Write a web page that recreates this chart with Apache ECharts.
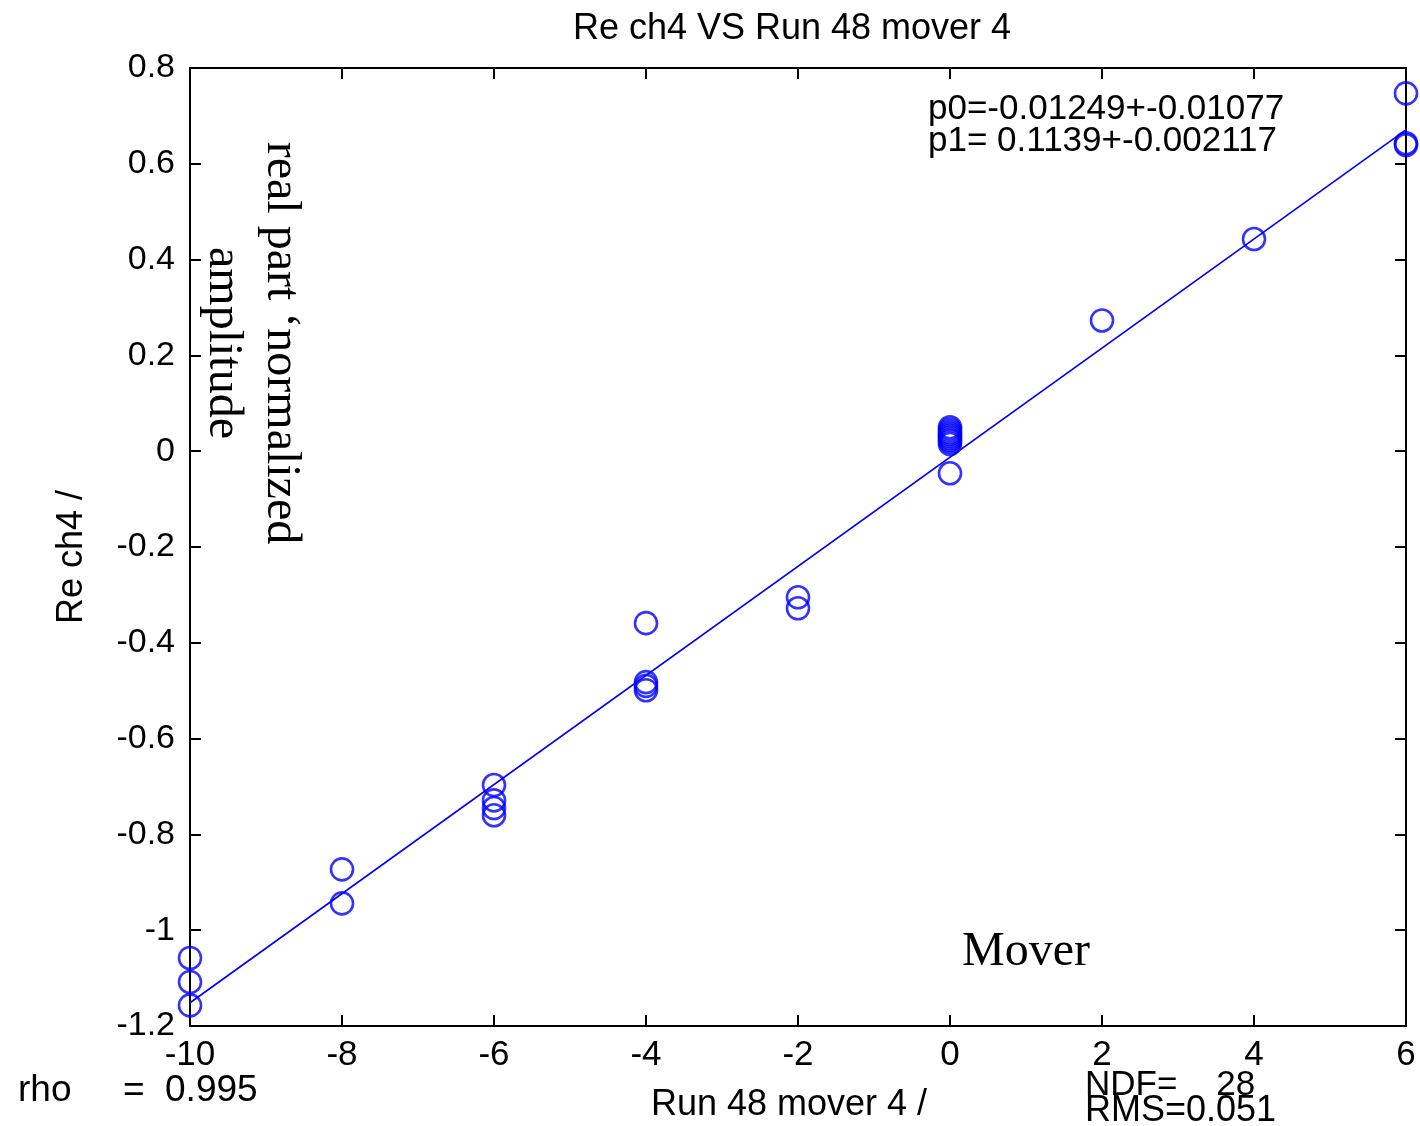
<!DOCTYPE html>
<html><head><meta charset="utf-8">
<script src="https://cdn.jsdelivr.net/npm/echarts@6/dist/echarts.min.js"></script>
<style>html,body{margin:0;padding:0;background:#fff}#c{width:1420px;height:1126px}</style>
</head><body><div id="c"></div>
<script>
var moverX = [-10,-10,-10,-8,-8,-6,-6,-6,-6,-4,-4,-4,-4,-2,-2,0,0,0,0,0,0,0,0,0,0,2,4,6,6,6];
var reCh4 = [-1.058,-1.108,-1.157,-0.873,-0.944,-0.697,-0.729,-0.745,-0.760,-0.359,-0.482,-0.490,-0.499,-0.305,-0.328,0.050,0.045,0.040,0.036,0.032,0.028,0.024,0.020,0.015,-0.046,0.273,0.443,0.747,0.643,0.639];
var fitP0 = -0.01249, fitP1 = 0.1139;
var fitRange = [-10, 6];
var titleText = 'Re ch4 VS Run 48 mover 4';
var xName = 'Run 48 mover 4 /';
var yName = 'Re ch4 /';
var fitLines = ['p0=-0.01249+-0.01077', 'p1= 0.1139+-0.002117'];
var statRho = 'rho     =  0.995';
var statNdf = 'NDF=    28';
var statRms = 'RMS=0.051';
var noteY = 'real part \u2018normalized\namplitude';
var noteX = 'Mover';

var pts = moverX.map(function(x,i){return [x, reCh4[i]];});
var fitData = fitRange.map(function(x){return [x, fitP0 + fitP1*x];});
var sans = 'Liberation Sans';
var serif = 'Liberation Serif';
var chart = echarts.init(document.getElementById('c'), null, {renderer:'canvas'});
var axisCommon = {
  axisLine:{show:true, onZero:false, lineStyle:{color:'#000', width:2}},
  axisTick:{show:true, inside:true, length:11, lineStyle:{color:'#000', width:2}},
  splitLine:{show:false}
};
chart.setOption({
  animation:false,
  backgroundColor:'#fff',
  title:{text:titleText, left:787, top:6, textAlign:'center',
    textStyle:{fontFamily:sans, fontSize:36, fontWeight:'normal', color:'#000'}},
  grid:{left:190, right:14, top:68, bottom:100, containLabel:false},
  xAxis:[
    Object.assign({type:'value', min:-10, max:6, interval:2, position:'bottom',
      axisLabel:{fontFamily:sans, fontSize:35, color:'#000', margin:12}}, axisCommon),
    Object.assign({type:'value', min:-10, max:6, interval:2, position:'top',
      axisLabel:{show:false}}, axisCommon)
  ],
  yAxis:[
    Object.assign({type:'value', min:-1.2, max:0.8, interval:0.2, position:'left',
      axisLabel:{fontFamily:sans, fontSize:34, color:'#000', margin:15,
        formatter:function(v){return String(Math.round(v*10)/10);}}}, axisCommon),
    Object.assign({type:'value', min:-1.2, max:0.8, interval:0.2, position:'right',
      axisLabel:{show:false}}, axisCommon)
  ],
  series:[
    {type:'line', data:fitData, symbol:'none', lineStyle:{color:'#0000ff', width:1.6}, z:3},
    {type:'scatter', data:pts, symbol:'circle', symbolSize:22,
      itemStyle:{color:'rgba(0,0,0,0)', borderColor:'#0000ff', borderWidth:2.6}, z:4}
  ],
  graphic:[
    {type:'text', x:72, y:557, rotation:Math.PI/2, z:10,
      style:{text:yName, font:'36px "'+sans+'"', fill:'#000', align:'center', verticalAlign:'middle'}},
    {type:'text', x:789, y:1105, z:10,
      style:{text:xName, font:'36px "'+sans+'"', fill:'#000', align:'center', verticalAlign:'middle'}},
    {type:'text', left:928, top:92, z:10, style:{text:fitLines.join('\n'), font:'35px "'+sans+'"', fill:'#000', lineHeight:32}},
    {type:'text', left:18, top:1072, z:10, style:{text:statRho, font:'37px "'+sans+'"', fill:'#000'}},
    {type:'text', left:1085, top:1068, z:10, style:{text:statNdf, font:'35px "'+sans+'"', fill:'#000'}},
    {type:'text', left:1085, top:1093, z:10, style:{text:statRms, font:'36px "'+sans+'"', fill:'#000'}},
    {type:'text', x:252, y:343, rotation:-Math.PI/2, z:10,
      style:{text:noteY, font:'48px "'+serif+'"', fill:'#000', align:'center', verticalAlign:'middle', lineHeight:58}},
    {type:'text', left:962, top:928, z:10, style:{text:noteX, font:'48px "'+serif+'"', fill:'#000'}}
  ]
});
</script></body></html>
